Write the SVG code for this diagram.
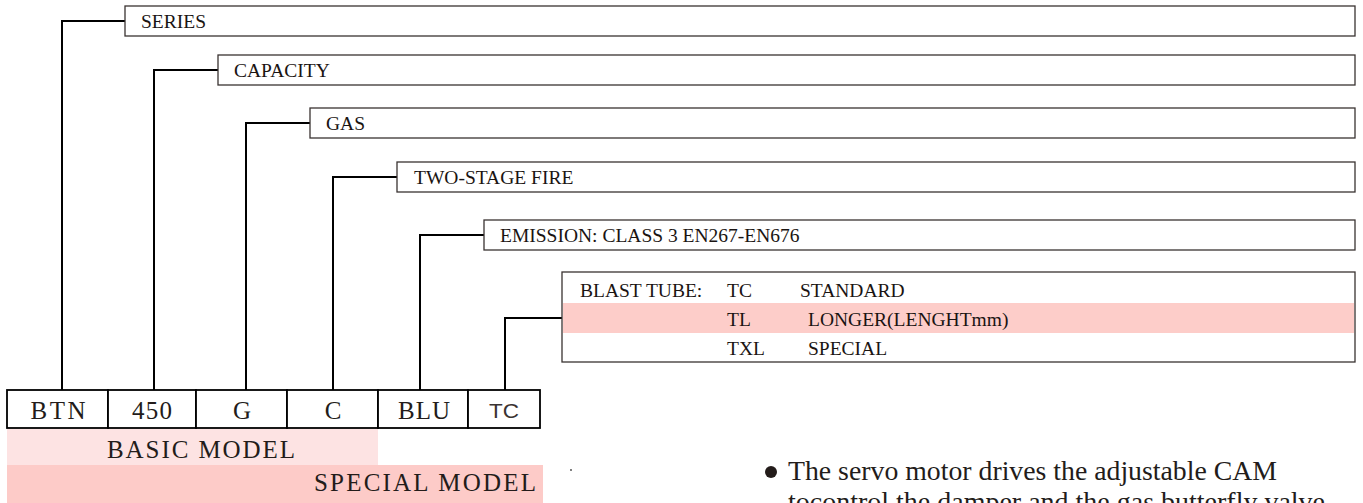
<svg xmlns="http://www.w3.org/2000/svg" width="1363" height="503" viewBox="0 0 1363 503">
<style>
.box{fill:#fff;stroke:#3a3332;stroke-width:1.3}
.lbl{font-family:"Liberation Serif",serif;font-size:19.5px;fill:#1a1412}
.conn{fill:none;stroke:#000;stroke-width:2}
.cell{fill:#fff;stroke:#000;stroke-width:1.8}
.big{font-family:"Liberation Serif",serif;font-size:25px;fill:#231c1a}
</style>
<rect width="1363" height="503" fill="#fff"/>
<g id="connectors">
<polyline class="conn" points="62,390 62,21 125,21"/>
<polyline class="conn" points="154,390 154,70 218,70"/>
<polyline class="conn" points="246,390 246,123 310,123"/>
<polyline class="conn" points="333,390 333,177 397,177"/>
<polyline class="conn" points="420,390 420,235 484,235"/>
<polyline class="conn" points="505,390 505,318 562,318"/>
</g>
<g id="series"><rect class="box" x="125" y="6" width="1230" height="30"/><text class="lbl" x="141" y="28">SERIES</text></g>
<g id="capacity"><rect class="box" x="218" y="55" width="1137" height="30"/><text class="lbl" x="234" y="77">CAPACITY</text></g>
<g id="gas"><rect class="box" x="310" y="108" width="1045" height="30"/><text class="lbl" x="326" y="130">GAS</text></g>
<g id="twostage"><rect class="box" x="397" y="162" width="958" height="30"/><text class="lbl" x="414" y="184">TWO-STAGE FIRE</text></g>
<g id="emission"><rect class="box" x="484" y="220" width="871" height="30"/><text class="lbl" x="500" y="242">EMISSION: CLASS 3 EN267-EN676</text></g>
<g id="blasttube">
<rect class="box" x="562" y="272" width="793" height="90"/>
<rect x="563" y="303" width="791" height="30" fill="#fdcdc9"/>
<text class="lbl" x="580" y="297">BLAST TUBE:</text>
<text class="lbl" x="727" y="297">TC</text>
<text class="lbl" x="800" y="297">STANDARD</text>
<text class="lbl" x="727" y="326">TL</text>
<text class="lbl" x="808" y="326">LONGER(LENGHTmm)</text>
<text class="lbl" x="727" y="355" font-family="Liberation Sans,sans-serif" font-size="17">TXL</text>
<text class="lbl" x="808" y="355">SPECIAL</text>
</g>
<g id="table">
<rect class="cell" x="7" y="390" width="101" height="38"/>
<rect class="cell" x="108" y="390" width="88" height="38"/>
<rect class="cell" x="196" y="390" width="91" height="38"/>
<rect class="cell" x="287" y="390" width="91" height="38"/>
<rect class="cell" x="378" y="390" width="90" height="38"/>
<rect class="cell" x="468" y="390" width="72" height="38"/>
<text class="big" x="58" y="419" text-anchor="middle" textLength="55" lengthAdjust="spacing">BTN</text>
<text class="big" x="152" y="419" text-anchor="middle" textLength="40" lengthAdjust="spacing">450</text>
<text class="big" x="242" y="419" text-anchor="middle">G</text>
<text class="big" x="333" y="419" text-anchor="middle">C</text>
<text class="big" x="424" y="419" text-anchor="middle" textLength="52" lengthAdjust="spacing">BLU</text>
<text x="504" y="418" text-anchor="middle" font-family="Liberation Sans,sans-serif" font-size="21" fill="#3a3332" textLength="30" lengthAdjust="spacingAndGlyphs">TC</text>
</g>
<g id="basic"><rect x="7" y="429" width="371" height="36" fill="#fde3e3"/><text class="big" x="201" y="458" text-anchor="middle" textLength="188" lengthAdjust="spacing">BASIC MODEL</text></g>
<g id="special"><rect x="7" y="465" width="536" height="38" fill="#fdcbc8"/><text class="big" x="536" y="491" text-anchor="end" textLength="222" lengthAdjust="spacing">SPECIAL MODEL</text></g>
<circle cx="571" cy="470" r="0.9" fill="#444"/>
<g id="note">
<circle cx="771" cy="472" r="6" fill="#231c1a"/>
<text x="788" y="480" font-family="Liberation Serif,serif" font-size="27" fill="#231c1a" textLength="489" lengthAdjust="spacingAndGlyphs">The servo motor drives the adjustable CAM</text>
<text x="788" y="511" font-family="Liberation Serif,serif" font-size="27" fill="#231c1a" textLength="537" lengthAdjust="spacingAndGlyphs">tocontrol the damper and the gas butterfly valve</text>
</g>
</svg>
